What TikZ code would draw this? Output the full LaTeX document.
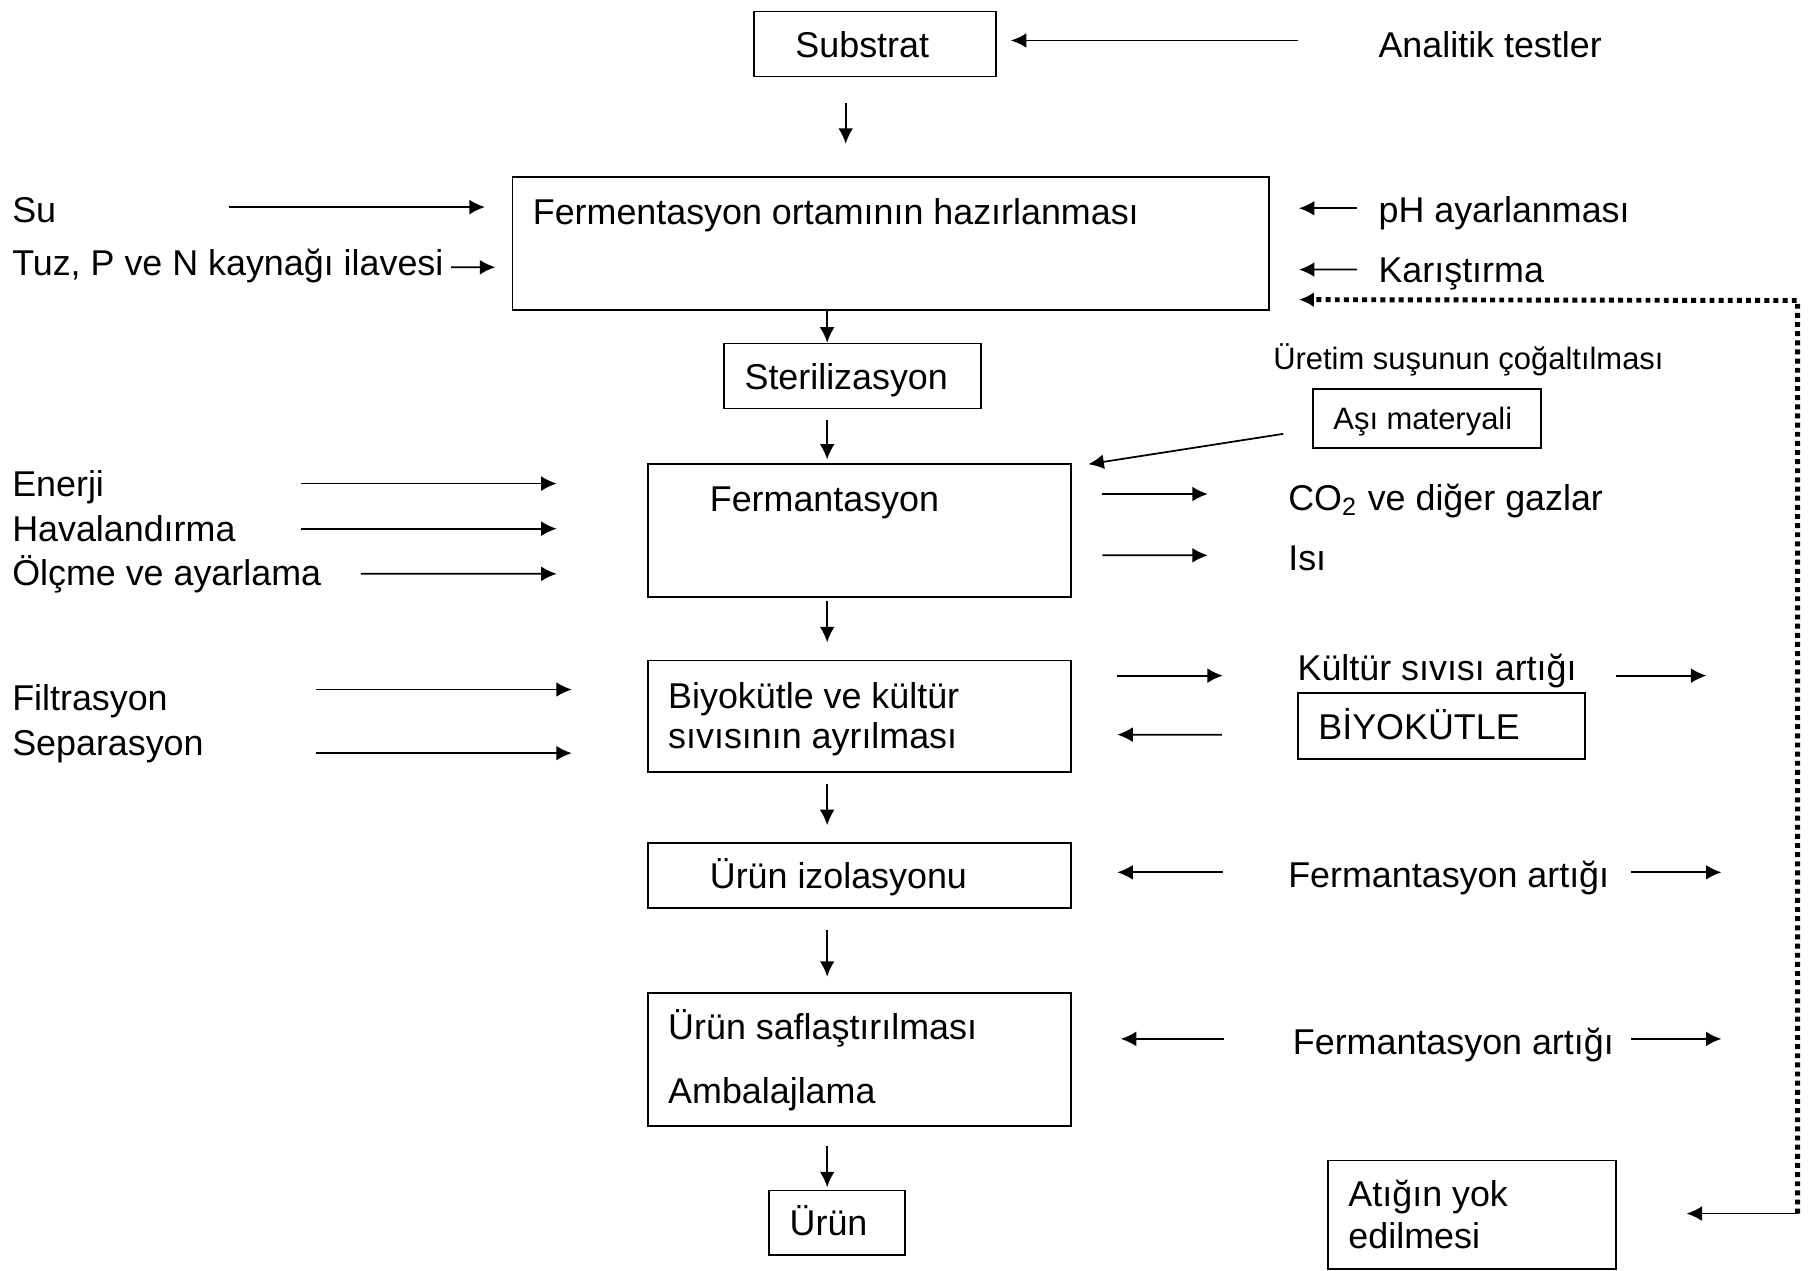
\documentclass[tikz,border=0pt]{standalone}
\usepackage{fontspec}
\setmainfont{Liberation Sans}
\usetikzlibrary{calc}
\usetikzlibrary{arrows.meta}
\tikzstyle{kutu}=[draw, rectangle, inner sep=0pt, line width=0.5pt]
\tikzstyle{yazi}=[anchor=west, inner sep=0pt, text height=7.3pt, text depth=0pt,
                 font=\fontsize{10.2}{12}\selectfont]
\tikzstyle{kucuk}=[yazi, text height=6.3pt, font=\fontsize{8.8}{10}\selectfont]
\tikzstyle{ok}=[->,>={Latex[length=4.4pt,width=4.2pt]}, line width=0.5pt]
\tikzstyle{nokta}=[line width=1.4pt, dash pattern=on 1.4pt off 1.2pt]

\begin{document}
\begin{tikzpicture}[x=0.011569cm, y=-0.011569cm]
\useasboundingbox (0,0) rectangle (1568,1098);
% kutular
\node[kutu, minimum width=2.418cm, minimum height=0.648cm] (substrat) at (756.5,38) {};
\node[kutu, minimum width=7.566cm, minimum height=1.330cm] (hazir) at (770,210.5) {};
\node[kutu, minimum width=2.568cm, minimum height=0.648cm] (steril) at (737,325) {};
\node[kutu, minimum width=2.279cm, minimum height=0.590cm] (asi) at (1233.5,361.5) {};
\node[kutu, minimum width=4.234cm, minimum height=1.330cm] (ferm) at (743,458.5) {};
\node[kutu, minimum width=4.234cm, minimum height=1.111cm] (ayir) at (743,619) {};
\node[kutu, minimum width=2.869cm, minimum height=0.659cm] (biyo) at (1246,627.5) {};
\node[kutu, minimum width=4.234cm, minimum height=0.648cm] (izol) at (743,757) {};
\node[kutu, minimum width=4.234cm, minimum height=1.330cm] (safl) at (743,915.5) {};
\node[kutu, minimum width=1.354cm, minimum height=0.648cm] (urun) at (723.5,1057) {};
\node[kutu, minimum width=2.881cm, minimum height=1.087cm] (atik) at (1272.5,1050) {};
% kutu yazilari
\node[yazi] (Ksubstrat) at (687,39) {Substrat};
\node[yazi] (Khazir) at (460,183) {Fermentasyon ortamının hazırlanması};
\node[yazi] (Ksteril) at (643,326) {Sterilizasyon};
\node[kucuk] (Kasi) at (1152,362) {Aşı materyali};
\node[yazi] (Kferm) at (613,431) {Fermantasyon};
\node[yazi] (Kayir1) at (577,601) {Biyokütle ve kültür};
\node[yazi] (Kayir2) at (577,636) {sıvısının ayrılması};
\node[yazi] (Kbiyo) at (1139,628) {BİYOKÜTLE};
\node[yazi] (Kizol) at (613,757) {Ürün izolasyonu};
\node[yazi] (Ksafl1) at (577,887) {Ürün saflaştırılması};
\node[yazi] (Ksafl2) at (577,943) {Ambalajlama};
\node[yazi] (Kurun) at (682,1057) {Ürün};
\node[yazi] (Katik1) at (1165,1032) {Atığın yok};
\node[yazi] (Katik2) at (1165,1068) {edilmesi};
% girdiler ve ciktilar
\node[yazi] (analitik) at (1191,39) {Analitik testler};
\node[yazi] (su) at (10,181) {Su};
\node[yazi] (tuz) at (10,227) {Tuz, P ve N kaynağı ilavesi};
\node[yazi] (ph) at (1191,181) {pH ayarlanması};
\node[yazi] (karis) at (1191,233) {Karıştırma};
\node[kucuk] (uretim) at (1100,310) {Üretim suşunun çoğaltılması};
\node[yazi] (enerji) at (10,418) {Enerji};
\node[yazi] (haval) at (10,457) {Havalandırma};
\node[yazi] (olcme) at (10,495) {Ölçme ve ayarlama};
\node[yazi] (co2) at (1113,430) {CO\textsubscript{2} ve diğer gazlar};
\node[yazi] (isi) at (1113,482) {Isı};
\node[yazi] (filtr) at (10,603) {Filtrasyon};
\node[yazi] (separ) at (10,642) {Separasyon};
\node[yazi] (kultur) at (1121,577) {Kültür sıvısı artığı};
\node[yazi] (fa1) at (1113,756) {Fermantasyon artığı};
\node[yazi] (fa2) at (1117,900) {Fermantasyon artığı};
% ana akis
\draw[ok] ($(substrat.south)+(-25.5,22)$) -- ($(hazir.north)+(-39,-28)$);
\draw[ok] ($(hazir.south)+(-55,0)$) -- ($(steril.north)+(-22,0)$);
\draw[ok] ($(steril.south)+(-22,9)$) -- ($(ferm.north)+(-28,-3)$);
\draw[ok] ($(ferm.south)+(-28,3)$) -- ($(ayir.north)+(-28,-15)$);
\draw[ok] ($(ayir.south)+(-28,10)$) -- ($(izol.north)+(-28,-15)$);
\draw[ok] ($(izol.south)+(-28,18)$) -- ($(safl.north)+(-28,-13)$);
\draw[ok] ($(safl.south)+(-28,17)$) -- ($(urun.north)+(-8.5,-2)$);
% yan oklar
\draw[ok] ($(analitik.west)+(-69,-4)$) -- ($(substrat.east)+(12,-3)$);
\draw[ok] ($(su.west)+(188,-2)$) -- ($(hazir.west)+(-23,-31.5)$);
\draw[ok] ($(tuz.west)+(380,4)$) -- ($(hazir.west)+(-14,20.5)$);
\draw[ok] ($(ph.west)+(-18,-1)$) -- ($(hazir.east)+(25,-30.5)$);
\draw[ok] ($(karis.west)+(-18,0)$) -- ($(hazir.east)+(25,22.5)$);
\draw[ok] ($(asi.west)+(-25,13.5)$) -- ($(ferm.north east)+(14,1)$);
\draw[ok] ($(enerji.west)+(250,0)$) -- ($(ferm.west)+(-78,-40.5)$);
\draw[ok] ($(haval.west)+(250,0)$) -- ($(ferm.west)+(-78,-1.5)$);
\draw[ok] ($(olcme.west)+(302,1)$) -- ($(ferm.west)+(-78,37.5)$);
\draw[ok] ($(ferm.east)+(26,-31.5)$) -- ($(co2.west)+(-69,-3)$);
\draw[ok] ($(ferm.east)+(26,21.5)$) -- ($(isi.west)+(-69,-2)$);
\draw[ok] ($(filtr.west)+(263,-7)$) -- ($(ayir.west)+(-65,-23)$);
\draw[ok] ($(separ.west)+(263,9)$) -- ($(ayir.west)+(-65,32)$);
\draw[ok] ($(ayir.east)+(39,-35)$) -- ($(kultur.west)+(-64,7)$);
\draw[ok] ($(kultur.west)+(276,7)$) -- ($(kultur.west)+(354,7)$);
\draw[ok] ($(biyo.west)+(-65,7.5)$) -- ($(ayir.east)+(39,16)$);
\draw[ok] ($(fa1.west)+(-56,-2)$) -- ($(izol.east)+(39,-3)$);
\draw[ok] ($(fa1.west)+(297,-2)$) -- ($(fa1.west)+(375,-2)$);
\draw[ok] ($(fa2.west)+(-59,-2)$) -- ($(safl.east)+(42,-17.5)$);
\draw[ok] ($(fa2.west)+(293,-2)$) -- ($(fa2.west)+(371,-2)$);
% atik geri donus
\coordinate (kose1) at ($(atik.east)+(156,-1)$);
\coordinate (kose2) at ($(hazir.south east)+(456,-9)$);
\draw[nokta,->,>={Latex[length=4.2pt,width=4.2pt]}] (kose1) -- (kose2) -- ($(hazir.east)+(25,48.5)$);
\draw[ok] (kose1) -- ($(atik.east)+(60,-1)$);
\end{tikzpicture}
\end{document}
